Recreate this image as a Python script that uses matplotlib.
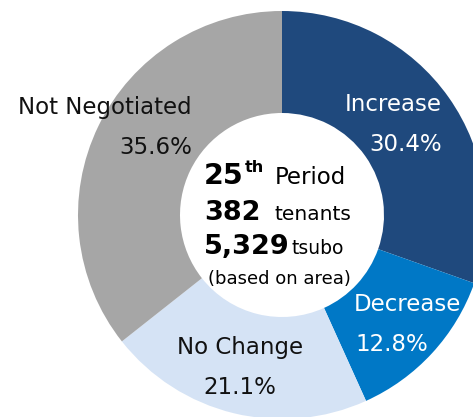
import matplotlib
matplotlib.use("Agg")
import matplotlib.pyplot as plt

# rent negotiation results, share of area (%)
labels = ["Increase", "Decrease", "No Change", "Not Negotiated"]
shares = [30.4, 12.8, 21.1, 35.6]
colors = ["#1f497d", "#0078c6", "#d5e3f5", "#a6a6a6"]
text_colors = ["white", "white", "#111111", "#111111"]

period = "25"
tenants = "382"
area = "5,329"

W, H = 473, 417
fig = plt.figure(figsize=(W / 100, H / 100), dpi=100)
ax = fig.add_axes([0, 0, 1, 1])

cx, cy = 282, H - 215
ax.pie(shares, colors=colors, startangle=90, counterclock=False,
       center=(cx, cy), radius=204,
       wedgeprops=dict(width=102, linewidth=0))
ax.set_xlim(0, W)
ax.set_ylim(0, H)
ax.axis("off")

def py(y):
    return H - y

# slice labels: (x, baseline of name, ha) in pixels
label_pos = [(442, 111, "right"), (354, 311, "left"),
             (240, 354, "center"), (192, 114, "right")]
for lab, val, tc, (x, y, ha) in zip(labels, shares, text_colors, label_pos):
    ax.text(x, py(y), lab, color=tc, fontsize=16.5, ha=ha, va="baseline")
    ax.text(x + (1 if ha == "left" else 0), py(y + 40), f"{val:.1f}%",
            color=tc, fontsize=16.5, ha=ha, va="baseline")

# centre text
ax.text(204, py(184), period, fontsize=20.5, fontweight="bold", va="baseline")
ax.text(245, py(172), "th", fontsize=11.5, fontweight="bold", va="baseline")
ax.text(275, py(184), "Period", fontsize=16.5, va="baseline")
ax.text(204, py(220), tenants, fontsize=19.5, fontweight="bold", va="baseline")
ax.text(274, py(220), "tenants", fontsize=14.5, va="baseline")
ax.text(204, py(254), area, fontsize=19.5, fontweight="bold", va="baseline")
ax.text(291, py(254), "tsubo", fontsize=13.5, va="baseline")
ax.text(279, py(284), "(based on area)", fontsize=13, ha="center", va="baseline")

fig.savefig("out.png", dpi=100)
